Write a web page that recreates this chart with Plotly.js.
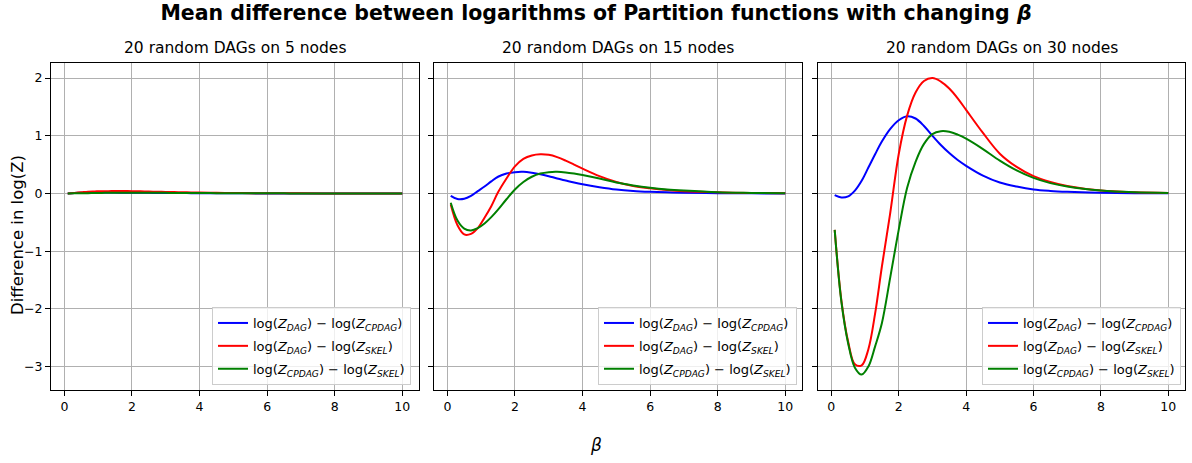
<!DOCTYPE html>
<html>
<head>
<meta charset="utf-8">
<script src="https://cdn.plot.ly/plotly-3.0.1.min.js"></script>
<style>html,body{margin:0;padding:0;background:#fff}#chart{width:1192px;height:463px}</style>
</head>
<body>
<div id="chart"></div>
<script>
// beta grid (x values)
const beta = [0.1,0.3,0.5,0.7,0.9,1.1,1.3,1.5,1.75,2.0,2.25,2.5,2.75,3.0,3.25,3.5,3.75,4.0,4.5,5.0,5.5,6.0,6.5,7.0,8.0,9.0,10.0];

// 5 nodes
const dagCpdag5  = [0.0,0.008,0.012,0.015,0.016,0.016,0.016,0.015,0.014,0.013,0.012,0.011,0.010,0.009,0.008,0.007,0.006,0.005,0.004,0.003,0.002,0.0015,0.001,0.001,0.0005,0.0,0.0];
const dagSkel5   = [0.0,0.01,0.02,0.03,0.035,0.04,0.04,0.042,0.042,0.04,0.037,0.033,0.03,0.027,0.024,0.021,0.018,0.016,0.012,0.009,0.006,0.004,0.003,0.002,0.001,0.0,0.0];
const cpdagSkel5 = [0.0,0.002,0.004,0.006,0.008,0.01,0.012,0.013,0.014,0.014,0.014,0.013,0.012,0.011,0.01,0.009,0.008,0.007,0.006,0.005,0.004,0.003,0.002,0.001,0.001,0.0,0.0];

// 15 nodes
const dagCpdag15  = [-0.04,-0.095,-0.09,-0.04,0.04,0.12,0.21,0.29,0.345,0.37,0.375,0.36,0.335,0.30,0.26,0.225,0.19,0.16,0.11,0.07,0.045,0.03,0.02,0.012,0.005,0.002,0.0];
const dagSkel15   = [-0.19,-0.55,-0.71,-0.70,-0.60,-0.42,-0.22,0.02,0.26,0.47,0.60,0.66,0.68,0.67,0.63,0.57,0.50,0.43,0.30,0.20,0.13,0.09,0.06,0.04,0.02,0.01,0.005];
const cpdagSkel15 = [-0.16,-0.47,-0.61,-0.64,-0.60,-0.52,-0.41,-0.28,-0.10,0.07,0.20,0.29,0.345,0.37,0.375,0.365,0.345,0.32,0.26,0.19,0.14,0.10,0.07,0.05,0.02,0.01,0.005];

// 30 nodes
const dagCpdag30  = [-0.03,-0.07,-0.05,0.05,0.22,0.45,0.68,0.90,1.12,1.27,1.34,1.30,1.17,1.00,0.84,0.70,0.58,0.48,0.31,0.19,0.12,0.07,0.045,0.03,0.012,0.005,0.002];
const dagSkel30   = [-0.63,-1.86,-2.57,-2.96,-2.98,-2.70,-2.08,-1.27,-0.33,0.68,1.35,1.75,1.95,2.00,1.94,1.82,1.65,1.45,1.05,0.69,0.46,0.30,0.20,0.13,0.05,0.02,0.01];
const cpdagSkel30 = [-0.63,-1.88,-2.60,-3.02,-3.14,-3.00,-2.65,-2.25,-1.45,-0.63,0.10,0.55,0.86,1.03,1.08,1.07,1.02,0.95,0.77,0.57,0.40,0.27,0.18,0.12,0.05,0.02,0.01];

const subtitles = ['20 random DAGs on 5 nodes','20 random DAGs on 15 nodes','20 random DAGs on 30 nodes'];
const seriesNames = [
  'log(<i>Z<sub>DAG</sub></i>) − log(<i>Z<sub>CPDAG</sub></i>)',
  'log(<i>Z<sub>DAG</sub></i>) − log(<i>Z<sub>SKEL</sub></i>)',
  'log(<i>Z<sub>CPDAG</sub></i>) − log(<i>Z<sub>SKEL</sub></i>)'
];
const seriesColors = ['#0000ff','#ff0000','#008000'];
const xTicks = [0,2,4,6,8,10];
const yTicks = [-3,-2,-1,0,1,2];
const yTickText = ['−3','−2','−1','0','1','2'];

const panels = [
  [dagCpdag5, dagSkel5, cpdagSkel5],
  [dagCpdag15, dagSkel15, cpdagSkel15],
  [dagCpdag30, dagSkel30, cpdagSkel30]
];

const W = 1192, H = 463;
const xDom = [[51/W, 419/W],[434/W, 802/W],[818/W, 1185/W]];
const yDom = [1-390/H, 1-63.3/H];
const font = 'DejaVu Sans, Liberation Sans, sans-serif';

const traces = [];
panels.forEach((p, i) => {
  p.forEach((vals, j) => {
    traces.push({
      type: 'scatter', mode: 'lines',
      x: beta, y: vals,
      name: seriesNames[j],
      line: {color: seriesColors[j], width: 2, shape: 'spline', smoothing: 1.0},
      xaxis: i === 0 ? 'x' : 'x' + (i+1),
      yaxis: i === 0 ? 'y' : 'y' + (i+1),
      legend: i === 0 ? 'legend' : 'legend' + (i+1),
      legendgroup: 'g' + i + '_' + j,
      hoverinfo: 'skip'
    });
  });
});

const layout = {
  width: W, height: H,
  margin: {l:0, r:0, t:0, b:0},
  paper_bgcolor: '#fff', plot_bgcolor: '#fff',
  font: {family: font, size: 12, color: '#000'},
  showlegend: true,
  title: {text: 'Mean difference between logarithms of Partition functions with changing <i>β</i>',
          x: 0.5, xanchor: 'center', y: 1-13/H, yanchor: 'middle',
          font: {family: font, size: 20.5, weight: 'bold', color: '#000'}},
  annotations: [],
};

function axisCommon() {
  return {
    showline: true, mirror: true, linecolor: '#000', linewidth: 1,
    ticks: 'outside', ticklen: 5, tickwidth: 1, tickcolor: '#000',
    showgrid: true, gridcolor: '#b0b0b0', gridwidth: 1,
    zeroline: false, tickfont: {family: font, size: 12.5, color: '#000'}
  };
}

for (let i = 0; i < 3; i++) {
  const sfx = i === 0 ? '' : String(i+1);
  layout['xaxis' + sfx] = Object.assign(axisCommon(), {
    domain: xDom[i], range: [-0.395, 10.495], tickmode: 'array', tickvals: xTicks,
    anchor: 'y' + sfx
  });
  layout['yaxis' + sfx] = Object.assign(axisCommon(), {
    domain: yDom, range: [-3.407, 2.257], tickmode: 'array', tickvals: yTicks,
    ticktext: yTickText, showticklabels: i === 0, anchor: 'x' + sfx
  });
  layout['legend' + sfx] = {
    x: [411/W, 797/W, 1181/W][i], xanchor: 'right', xref: 'paper',
    y: 1-346/H, yanchor: 'middle', yref: 'paper',
    bgcolor: 'rgba(255,255,255,0.8)', bordercolor: '#cccccc', borderwidth: 1,
    font: {family: font, size: 13, color: '#000'}, itemwidth: 30,
    traceorder: 'grouped', tracegroupgap: 3
  };
  layout.annotations.push({
    text: subtitles[i], xref: 'paper', yref: 'paper',
    x: (xDom[i][0]+xDom[i][1])/2, y: 1-48/H, xanchor: 'center', yanchor: 'middle',
    showarrow: false, font: {family: font, size: 15.5, color: '#000'}
  });
}

layout.annotations.push({
  text: 'Difference in log(Z)', xref: 'paper', yref: 'paper',
  x: 17/W, y: 1-235/H, xanchor: 'center', yanchor: 'middle', textangle: -90,
  showarrow: false, font: {family: font, size: 16.5, color: '#000'}
});
layout.annotations.push({
  text: '<i>β</i>', xref: 'paper', yref: 'paper',
  x: 0.5, y: 1-445/H, xanchor: 'center', yanchor: 'middle',
  showarrow: false, font: {family: font, size: 17, color: '#000'}
});

Plotly.newPlot('chart', traces, layout, {staticPlot: true, displayModeBar: false});
</script>
</body>
</html>
